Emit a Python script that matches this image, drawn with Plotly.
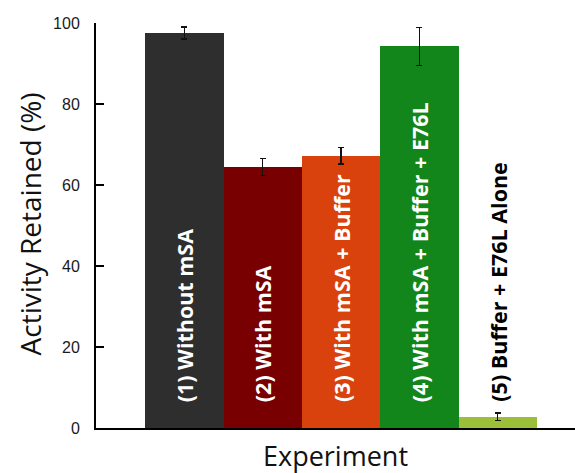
import plotly.graph_objects as go

categories = ["(1) Without mSA", "(2) With mSA", "(3) With mSA + Buffer",
              "(4) With mSA + Buffer + E76L", "(5) Buffer + E76L Alone"]
values = [97.5, 64.5, 67.2, 94.2, 2.8]
errors = [1.5, 2.1, 2.0, 4.7, 0.9]
colors = ["#2e2e2e", "#780000", "#d9410d", "#13861b", "#9cbf3a"]
label_colors = ["white", "white", "white", "white", "black"]
y_ticks = [0, 20, 40, 60, 80, 100]
x_title = "Experiment"
y_title = "Activity Retained (%)"

xs = list(range(len(categories)))

fig = go.Figure()
fig.add_trace(go.Bar(
    x=xs, y=values, width=1.0,
    marker=dict(color=colors, line=dict(width=0)),
    error_y=dict(type="data", array=errors, visible=True,
                 color="#111111", thickness=1.5, width=3),
    showlegend=False, hoverinfo="skip",
))

for x, name, c in zip(xs, categories, label_colors):
    fig.add_annotation(
        x=x, y=0, xref="x", yref="y", text="<b>%s</b>" % name,
        textangle=-90, showarrow=False, yanchor="bottom", xanchor="center",
        yshift=24, font=dict(family="Open Sans", size=21.5, color=c),
    )

fig.add_annotation(
    x=-0.1378, y=0.505, xref="paper", yref="paper", text=y_title,
    textangle=-90, showarrow=False, xanchor="center", yanchor="middle",
    font=dict(family="Open Sans", size=28, color="#111111"),
)
fig.add_annotation(
    x=0.499, y=-0.069, xref="paper", yref="paper", text=x_title,
    showarrow=False, xanchor="center", yanchor="middle",
    font=dict(family="Open Sans", size=27, color="#111111"),
)

fig.update_layout(
    width=575, height=473,
    margin=dict(l=96, r=0, t=23, b=45),
    paper_bgcolor="white", plot_bgcolor="white",
    bargap=0,
    xaxis=dict(range=[-1.128, 4.987], showticklabels=False, ticks="",
               showgrid=False, zeroline=False, showline=True,
               linecolor="black", linewidth=2, automargin=False),
    yaxis=dict(range=[0, 100], tickvals=y_ticks, ticks="inside", ticklen=8,
               tickwidth=2, tickcolor="black", showgrid=False, zeroline=False,
               showline=True, linecolor="black", linewidth=2, automargin=False,
               ticklabelstandoff=11,
               tickfont=dict(family="Liberation Sans", size=16, color="#1a1a1a")),
)

fig.write_html("out.html", config={"displayModeBar": False},
               post_script="document.body.style.margin='0';document.body.style.overflow='hidden';")
